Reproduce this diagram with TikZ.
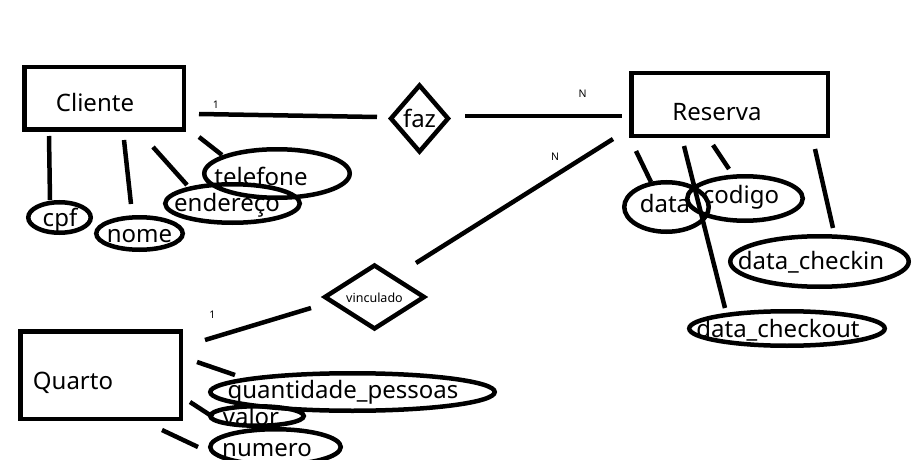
\documentclass[tikz,border=0pt]{standalone}
\usepackage{fontspec}
\setmainfont{Noto Sans}
\usetikzlibrary{shapes.geometric}
\begin{document}
\begin{tikzpicture}[x=1pt,y=-1pt,
  every node/.style={inner sep=0pt, outer sep=0pt},
  ent/.style={draw, line width=4.5pt, rectangle},
  relbox/.style={draw, line width=4.5pt, diamond},
  attr/.style={draw, line width=4.5pt, ellipse},
  conn/.style={line width=4.5pt},
  big/.style={font=\fontsize{24}{28}\selectfont},
  small/.style={font=\fontsize{12.5}{15}\selectfont},
  card/.style={font=\fontsize{10.5}{12}\selectfont},
]
\fill[white] (0,0) rectangle (922,460);
\path[use as bounding box] (0,0) rectangle (922,460);

% entities
\node[ent, minimum width=159.5, minimum height=62.5,
  label={[big,shift={(-9,4.5)}]center:Cliente}] (cli) at (104,98.5) {};
\node[ent, minimum width=196.5, minimum height=62.5,
  label={[big,shift={(-12.5,7.5)}]center:Reserva}] (res) at (729.5,104.5) {};
\node[ent, minimum width=160.5, minimum height=87.5,
  label={[big,shift={(-27.5,8)}]center:Quarto}] (qua) at (100.5,375) {};

% relationships
\node[relbox, minimum width=57, minimum height=66,
  label={[big]center:faz}] (faz) at (419.5,118.5) {};
\node[relbox, minimum width=99, minimum height=63,
  label={[small,shift={(0,1)}]center:vinculado}] (vin) at (374.5,297) {};

% attributes
\node[attr, minimum width=62.5, minimum height=30.5,
  label={[big,shift={(0.5,3)}]center:cpf}] (cpf) at (59.5,217.5) {};
\node[attr, minimum width=86.5, minimum height=32.5,
  label={[big,shift={(0,2.5)}]center:nome}] (nome) at (139.5,233.5) {};
\node[attr, minimum width=134.5, minimum height=38.5,
  label={[big,shift={(-5.5,1.5)}]center:endereço}] (end) at (232.5,203.5) {};
\node[attr, minimum width=145.5, minimum height=48.5,
  label={[big,shift={(-16,2.5)}]center:telefone}] (tel) at (277,173.5) {};

\node[attr, minimum width=84.5, minimum height=49.5,
  label={[big,shift={(-1.5,-4)}]center:data}] (data) at (666.5,207) {};
\node[attr, minimum width=115.5, minimum height=44.5,
  label={[big,shift={(-4,-1)}]center:codigo}] (cod) at (745,198.5) {};
\node[attr, minimum width=178.5, minimum height=50.5,
  label={[big,shift={(-8.5,1)}]center:data\_checkin}] (chk) at (819.5,261.5) {};
\node[attr, minimum width=195.5, minimum height=34.5,
  label={[big,shift={(-9,1.5)}]center:data\_checkout}] (cko) at (787,328.5) {};

\node[attr, minimum width=284.5, minimum height=37.5,
  label={[big,shift={(-9.5,0.5)}]center:quantidade\_pessoas}] (qtd) at (352.5,392) {};
\node[attr, minimum width=93.5, minimum height=19.5,
  label={[big,shift={(-6,0)}]center:valor}] (val) at (257,416) {};
\node[attr, minimum width=130.5, minimum height=35.5,
  label={[big,shift={(-8.5,3)}]center:numero}] (num) at (275.5,447) {};

% connectors
\draw[conn] ([shift={(95,15.5)}]cli.center) -- ([shift={(-42.5,-1.5)}]faz.center);
\draw[conn] ([shift={(45.5,-2.5)}]faz.center) -- ([shift={(-107.5,11.5)}]res.center);
\draw[conn] ([shift={(-116.5,34.5)}]res.center) -- ([shift={(41.5,-34)}]vin.center);
\draw[conn] ([shift={(-63.5,11)}]vin.center) -- ([shift={(104.5,-35)}]qua.center);

\draw[conn] ([shift={(-55,37.5)}]cli.center) -- ([shift={(-9.5,-17.5)}]cpf.center);
\draw[conn] ([shift={(20,41.5)}]cli.center) -- ([shift={(-8.5,-29.5)}]nome.center);
\draw[conn] ([shift={(49,48.5)}]cli.center) -- ([shift={(-45.5,-18.5)}]end.center);
\draw[conn] ([shift={(95,38.5)}]cli.center) -- ([shift={(-55,-18.5)}]tel.center);

\draw[conn] ([shift={(-93.5,46.5)}]res.center) -- ([shift={(-15.5,-25)}]data.center);
\draw[conn] ([shift={(-16.5,40.5)}]res.center) -- ([shift={(-16,-29.5)}]cod.center);
\draw[conn] ([shift={(85.5,44.5)}]res.center) -- ([shift={(13.5,-33.5)}]chk.center);
\draw[conn] ([shift={(-45.5,41.5)}]res.center) -- ([shift={(-62,-20.5)}]cko.center);

\draw[conn] ([shift={(96.5,-13)}]qua.center) -- ([shift={(-117.5,-17)}]qtd.center);
\draw[conn] ([shift={(89.5,27)}]qua.center) -- ([shift={(-44,1)}]val.center);
\draw[conn] ([shift={(61.5,55)}]qua.center) -- ([shift={(-77.5,0)}]num.center);

% cardinalities
\node[card] (c1) at (216,104.5) {1};
\node[card] (c2) at (582.5,93.5) {N};
\node[card] (c3) at (555,157) {N};
\node[card] (c4) at (212.5,315) {1};
\end{tikzpicture}
\end{document}
